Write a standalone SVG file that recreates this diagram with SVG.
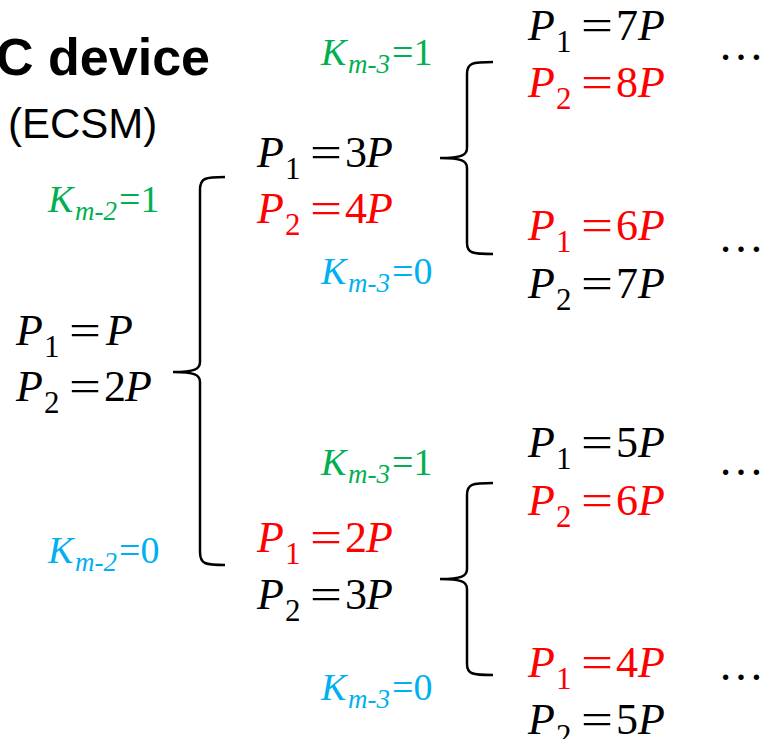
<svg xmlns="http://www.w3.org/2000/svg" width="765" height="739" viewBox="0 0 765 739">
<style>
.e{font-family:"Liberation Serif","Times New Roman",serif;font-size:44px}
.i{font-style:italic}
.s{font-size:31px;font-style:normal}
.kl{font-family:"Liberation Serif","Times New Roman",serif;font-size:38px}
.ks{font-size:27px}
.dots{font-family:"Liberation Serif","Times New Roman",serif;font-size:46px;fill:#000}
.k{fill:#000}.r{fill:#FF0000}.g{fill:#00B050}.b{fill:#00B0F0}
.br{fill:none;stroke:#000;stroke-width:2.5}
.title{font-family:"Liberation Sans",Arial,sans-serif;fill:#000}
</style>
<rect width="765" height="739" fill="#fff"/>
<g id="title">
<text class="title" x="210" y="75" text-anchor="end" font-size="52" font-weight="bold">C device</text>
<text class="title" x="8" y="138" font-size="42">(ECSM)</text>
</g>
<g id="connectors">
<path class="br" d="M225,177 C205,177 200,178 200,190 L200,362 C200,369 195,372 173,372 C195,372 200,375 200,382 L200,552 C200,564 205,565 225,565"/>
<path class="br" d="M493,62 C472,62 467,63 467,74 L467,148 C467,155 462,158 440,158 C462,158 467,161 467,168 L467,243 C467,253 472,254 493,254"/>
<path class="br" d="M493,483 C472,483 467,484 467,495 L467,569 C467,576 462,579 440,579 C462,579 467,582 467,589 L467,664 C467,674 472,675 493,675"/>
</g>
<g id="labels">
<text class="kl g" y="212"><tspan class="i" x="48">K</tspan><tspan class="i ks" x="75" dy="8">m-2</tspan><tspan x="119" dy="-8">=1</tspan></text>
<text class="kl b" y="563"><tspan class="i" x="48">K</tspan><tspan class="i ks" x="75" dy="8">m-2</tspan><tspan x="119" dy="-8">=0</tspan></text>
<text class="kl g" y="65"><tspan class="i" x="321">K</tspan><tspan class="i ks" x="348" dy="8">m-3</tspan><tspan x="392" dy="-8">=1</tspan></text>
<text class="kl b" y="284"><tspan class="i" x="321">K</tspan><tspan class="i ks" x="348" dy="8">m-3</tspan><tspan x="392" dy="-8">=0</tspan></text>
<text class="kl g" y="475"><tspan class="i" x="321">K</tspan><tspan class="i ks" x="348" dy="8">m-3</tspan><tspan x="392" dy="-8">=1</tspan></text>
<text class="kl b" y="700"><tspan class="i" x="321">K</tspan><tspan class="i ks" x="348" dy="8">m-3</tspan><tspan x="392" dy="-8">=0</tspan></text>
</g>
<g id="node-root">
<text class="e k" y="345"><tspan class="i" x="16">P</tspan><tspan class="s" x="44" dy="12">1</tspan></text>
<text class="e k" x="69" y="345" textLength="32" lengthAdjust="spacingAndGlyphs">=</text>
<text class="e k i" x="106" y="345">P</text>
<text class="e k" y="401"><tspan class="i" x="16">P</tspan><tspan class="s" x="44" dy="12">2</tspan></text>
<text class="e k" x="69" y="401" textLength="32" lengthAdjust="spacingAndGlyphs">=</text>
<text class="e k" y="401"><tspan x="104">2</tspan><tspan class="i" x="125">P</tspan></text>
</g>
<g id="node-1">
<text class="e k" y="167"><tspan class="i" x="257">P</tspan><tspan class="s" x="285" dy="12">1</tspan></text>
<text class="e k" x="310" y="167" textLength="32" lengthAdjust="spacingAndGlyphs">=</text>
<text class="e k" y="167"><tspan x="345">3</tspan><tspan class="i" x="366">P</tspan></text>
<text class="e r" y="223"><tspan class="i" x="257">P</tspan><tspan class="s" x="285" dy="12">2</tspan></text>
<text class="e r" x="310" y="223" textLength="32" lengthAdjust="spacingAndGlyphs">=</text>
<text class="e r" y="223"><tspan x="345">4</tspan><tspan class="i" x="366">P</tspan></text>
</g>
<g id="node-0">
<text class="e r" y="552"><tspan class="i" x="257">P</tspan><tspan class="s" x="285" dy="12">1</tspan></text>
<text class="e r" x="310" y="552" textLength="32" lengthAdjust="spacingAndGlyphs">=</text>
<text class="e r" y="552"><tspan x="345">2</tspan><tspan class="i" x="366">P</tspan></text>
<text class="e k" y="609"><tspan class="i" x="257">P</tspan><tspan class="s" x="285" dy="12">2</tspan></text>
<text class="e k" x="310" y="609" textLength="32" lengthAdjust="spacingAndGlyphs">=</text>
<text class="e k" y="609"><tspan x="345">3</tspan><tspan class="i" x="366">P</tspan></text>
</g>
<g id="node-11">
<text class="e k" y="40"><tspan class="i" x="528">P</tspan><tspan class="s" x="556" dy="12">1</tspan></text>
<text class="e k" x="581" y="40" textLength="32" lengthAdjust="spacingAndGlyphs">=</text>
<text class="e k" y="40"><tspan x="616">7</tspan><tspan class="i" x="638">P</tspan></text>
<text class="e r" y="97"><tspan class="i" x="528">P</tspan><tspan class="s" x="556" dy="12">2</tspan></text>
<text class="e r" x="581" y="97" textLength="32" lengthAdjust="spacingAndGlyphs">=</text>
<text class="e r" y="97"><tspan x="616">8</tspan><tspan class="i" x="638">P</tspan></text>
<text class="dots" x="718" y="60">…</text>
</g>
<g id="node-10">
<text class="e r" y="240"><tspan class="i" x="528">P</tspan><tspan class="s" x="556" dy="12">1</tspan></text>
<text class="e r" x="581" y="240" textLength="32" lengthAdjust="spacingAndGlyphs">=</text>
<text class="e r" y="240"><tspan x="616">6</tspan><tspan class="i" x="638">P</tspan></text>
<text class="e k" y="298"><tspan class="i" x="528">P</tspan><tspan class="s" x="556" dy="12">2</tspan></text>
<text class="e k" x="581" y="298" textLength="32" lengthAdjust="spacingAndGlyphs">=</text>
<text class="e k" y="298"><tspan x="616">7</tspan><tspan class="i" x="638">P</tspan></text>
<text class="dots" x="718" y="252">…</text>
</g>
<g id="node-01">
<text class="e k" y="457"><tspan class="i" x="528">P</tspan><tspan class="s" x="556" dy="12">1</tspan></text>
<text class="e k" x="581" y="457" textLength="32" lengthAdjust="spacingAndGlyphs">=</text>
<text class="e k" y="457"><tspan x="616">5</tspan><tspan class="i" x="638">P</tspan></text>
<text class="e r" y="515"><tspan class="i" x="528">P</tspan><tspan class="s" x="556" dy="12">2</tspan></text>
<text class="e r" x="581" y="515" textLength="32" lengthAdjust="spacingAndGlyphs">=</text>
<text class="e r" y="515"><tspan x="616">6</tspan><tspan class="i" x="638">P</tspan></text>
<text class="dots" x="718" y="475">…</text>
</g>
<g id="node-00">
<text class="e r" y="677"><tspan class="i" x="528">P</tspan><tspan class="s" x="556" dy="12">1</tspan></text>
<text class="e r" x="581" y="677" textLength="32" lengthAdjust="spacingAndGlyphs">=</text>
<text class="e r" y="677"><tspan x="616">4</tspan><tspan class="i" x="638">P</tspan></text>
<text class="e k" y="734"><tspan class="i" x="528">P</tspan><tspan class="s" x="556" dy="12">2</tspan></text>
<text class="e k" x="581" y="734" textLength="32" lengthAdjust="spacingAndGlyphs">=</text>
<text class="e k" y="734"><tspan x="616">5</tspan><tspan class="i" x="638">P</tspan></text>
<text class="dots" x="718" y="680">…</text>
</g>
</svg>
